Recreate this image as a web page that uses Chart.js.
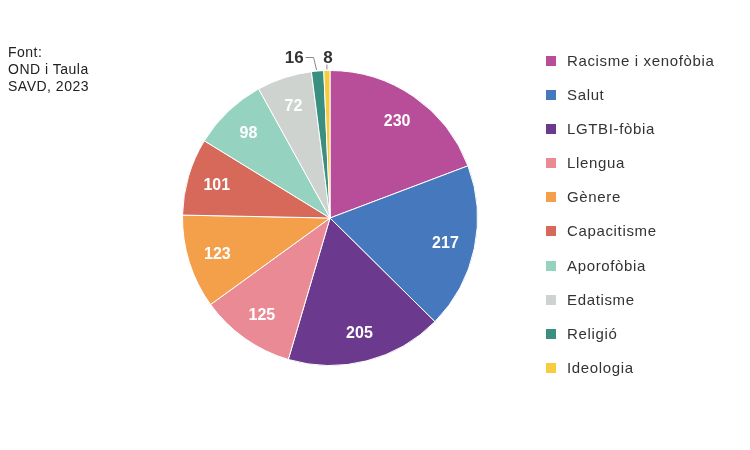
<!DOCTYPE html>
<html>
<head>
<meta charset="utf-8">
<script src="https://cdn.jsdelivr.net/npm/chart.js@4"></script>
<style>
	body { margin: 0; background: #fff; font-family: "Liberation Sans", Arial, sans-serif; }
	#wrap { position: relative; width: 750px; height: 450px; }
	#font { position: absolute; left: 8px; top: 44px; font-size: 14px; letter-spacing: 0.5px; line-height: 17px; color: #222; }
	#llegenda { position: absolute; left: 546px; top: 51px; }
	.item { height: 34.1px; display: flex; align-items: flex-start; font-size: 15px; letter-spacing: 0.65px; line-height: 20px; color: #333; }
	.item span.q { width: 10px; height: 10px; margin-top: 5px; margin-right: 11px; }
	canvas { position: absolute; left: 0; top: 0; }
</style>
</head>
<body>
<div id="wrap">
	<canvas id="pastis" width="750" height="450"></canvas>
	<div id="font">Font:<br>OND i Taula<br>SAVD, 2023</div>
	<div id="llegenda"></div>
</div>
<script>
// Dades del gràfic
const categories = ["Racisme i xenofòbia", "Salut", "LGTBI-fòbia", "Llengua", "Gènere",
	"Capacitisme", "Aporofòbia", "Edatisme", "Religió", "Ideologia"];
const valors = [230, 217, 205, 125, 123, 101, 98, 72, 16, 8];
const colors = ["#b84e9a", "#4678bd", "#6b3a8e", "#ea8a95", "#f4a04b",
	"#d7695b", "#95d3c0", "#cfd3cf", "#3a8f80", "#f7cc3f"];

// Llegenda en HTML
const llegenda = document.getElementById("llegenda");
categories.forEach((nom, i) => {
	const fila = document.createElement("div");
	fila.className = "item";
	fila.innerHTML = `<span class="q" style="background:${colors[i]}"></span><span>${nom}</span>`;
	llegenda.appendChild(fila);
});

// Etiquetes de valor dins i fora dels sectors
const etiquetes = {
	id: "etiquetes",
	afterDatasetsDraw(chart) {
		const ctx = chart.ctx;
		const arcs = chart.getDatasetMeta(0).data;
		ctx.save();
		ctx.textAlign = "center";
		ctx.textBaseline = "middle";
		arcs.forEach((arc, i) => {
			const p = arc.getProps(["x", "y", "startAngle", "endAngle", "outerRadius"], true);
			const mig = (p.startAngle + p.endAngle) / 2;
			const v = valors[i];
			if (v >= 50) {
				const r = p.outerRadius * 0.8;
				ctx.fillStyle = "#fff";
				ctx.font = "bold 16px 'Liberation Sans', Arial, sans-serif";
				ctx.fillText(v, p.x + Math.cos(mig) * r, p.y + Math.sin(mig) * r + 1);
			} else {
				// punt a la vora del sector
				const ex = p.x + Math.cos(mig) * p.outerRadius;
				const ey = p.y + Math.sin(mig) * p.outerRadius;
				const ly = p.y - p.outerRadius - 13;
				ctx.strokeStyle = "#888";
				ctx.lineWidth = 1;
				ctx.fillStyle = "#333";
				ctx.font = "bold 17px 'Liberation Sans', Arial, sans-serif";
				ctx.beginPath();
				if (v > 10) {
					const cx = ex - 4;
					ctx.moveTo(ex - 1, ey - 1);
					ctx.lineTo(cx, ly);
					ctx.lineTo(cx - 8, ly);
					ctx.stroke();
					ctx.textAlign = "right";
					ctx.fillText(v, cx - 10, ly + 1);
					ctx.textAlign = "center";
				} else {
					ctx.moveTo(ex, ey - 1);
					ctx.lineTo(ex, ly + 7);
					ctx.stroke();
					ctx.fillText(v, ex + 1, ly + 1);
				}
			}
		});
		ctx.restore();
	},
};

new Chart(document.getElementById("pastis"), {
	type: "pie",
	data: {
		labels: categories,
		datasets: [
			{
				data: valors,
				backgroundColor: colors,
				borderColor: "#fff",
				borderWidth: 1,
			},
		],
	},
	options: {
		responsive: false,
		animation: false,
		layout: { padding: { left: 182, right: 272, top: 70, bottom: 84 } },
		plugins: {
			legend: { display: false },
			tooltip: { enabled: false },
		},
	},
	plugins: [etiquetes],
});
</script>
</body>
</html>
